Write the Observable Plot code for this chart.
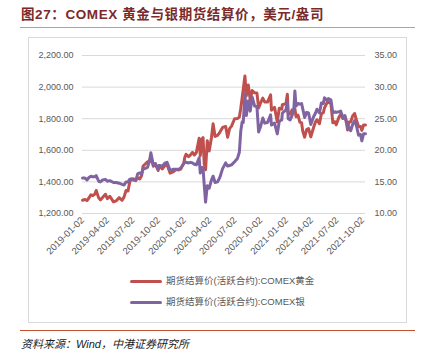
<!DOCTYPE html>
<html><head><meta charset="utf-8">
<script src="https://cdn.jsdelivr.net/npm/d3@7"></script>
<script src="https://cdn.jsdelivr.net/npm/@observablehq/plot@0.6"></script>
<style>
html,body{margin:0;padding:0;background:#fff;}
#wrap{position:relative;width:422px;height:356px;overflow:hidden;font-family:"Liberation Sans","Noto Sans CJK SC",sans-serif;}
#title{position:absolute;left:21px;top:8px;line-height:14px;font-size:13.5px;font-weight:bold;color:#7b2a2a;letter-spacing:0.6px;white-space:nowrap;}
#tline{position:absolute;left:20px;top:27px;width:395px;height:1px;background:#dc9378;}
#box{position:absolute;left:28px;top:37px;width:377px;height:284px;border:1px solid #d9d9d9;}
#chart{position:absolute;left:28px;top:37px;}
.item{position:absolute;left:130px;height:12px;font-size:9.5px;color:#595959;white-space:nowrap;}
.sw{position:absolute;left:0;top:4.5px;width:32px;height:3px;border-radius:1.5px;}
.lab{position:absolute;left:36px;top:0;line-height:12px;}
#bline{position:absolute;left:20px;top:330px;width:395px;height:1px;background:#c5502d;}
#source{position:absolute;left:21px;top:338px;line-height:12px;font-size:11px;font-style:italic;color:#222;white-space:nowrap;}
</style></head>
<body>
<div id="wrap">
  <div id="title">图27：COMEX 黄金与银期货结算价，美元/盎司</div>
  <div id="tline"></div>
  <div id="box"></div>
  <div id="chart"></div>
  <div id="legend"></div>
  <div id="bline"></div>
  <div id="source">资料来源：Wind，中港证券研究所</div>
</div>
<script>
const dates2019 = ["2019-01-02","2019-01-11","2019-01-18","2019-01-25","2019-02-01","2019-02-08","2019-02-15","2019-02-20","2019-03-01","2019-03-07","2019-03-15","2019-03-25","2019-04-01","2019-04-10","2019-04-23","2019-05-03","2019-05-13","2019-05-24","2019-05-31","2019-06-07","2019-06-14","2019-06-20","2019-06-25","2019-07-03","2019-07-12","2019-07-19","2019-07-26","2019-08-02","2019-08-07","2019-08-13","2019-08-23","2019-08-30","2019-09-04","2019-09-13","2019-09-20","2019-09-30","2019-10-04","2019-10-15","2019-10-25","2019-11-01","2019-11-12","2019-11-22","2019-12-03","2019-12-13","2019-12-20","2019-12-31"];
const gold2019 = [1284,1289,1282,1298,1318,1314,1322,1346,1299,1286,1302,1322,1294,1309,1274,1280,1300,1284,1305,1346,1342,1397,1418,1420,1412,1426,1419,1440,1500,1510,1527,1529,1560,1499,1515,1472,1504,1482,1505,1508,1455,1463,1478,1476,1481,1520];
const silver2019 = [15.6,15.6,15.3,15.7,15.9,15.8,15.8,16.0,15.1,15.0,15.3,15.4,15.1,15.2,14.9,14.9,14.8,14.6,14.5,15.0,15.0,15.4,15.4,15.3,15.2,16.3,16.4,16.3,17.1,17.1,17.3,18.3,19.6,17.6,17.9,17.0,17.6,17.5,18.0,18.1,16.8,17.0,17.0,17.0,17.2,17.9];

const dates2020 = ["2020-01-03","2020-01-08","2020-01-17","2020-01-24","2020-01-31","2020-02-07","2020-02-14","2020-02-24","2020-02-28","2020-03-06","2020-03-09","2020-03-13","2020-03-18","2020-03-24","2020-03-31","2020-04-08","2020-04-14","2020-04-21","2020-04-30","2020-05-08","2020-05-18","2020-05-29","2020-06-05","2020-06-12","2020-06-19","2020-06-30","2020-07-10","2020-07-17","2020-07-22","2020-07-27","2020-07-31","2020-08-06","2020-08-11","2020-08-18","2020-08-25","2020-09-01","2020-09-10","2020-09-18","2020-09-24","2020-09-30","2020-10-09","2020-10-16","2020-10-26","2020-11-06","2020-11-09","2020-11-20","2020-11-30","2020-12-07","2020-12-16","2020-12-18","2020-12-31"];
const gold2020 = [1552,1575,1560,1571,1587,1570,1586,1676,1566,1673,1680,1516,1477,1660,1596,1680,1768,1688,1694,1714,1745,1751,1683,1737,1753,1800,1801,1810,1865,1931,1986,2070,1946,2013,1918,1978,1964,1962,1868,1895,1930,1906,1905,1951,1854,1872,1780,1866,1860,1888,1895];
const silver2020 = [18.1,18.1,18.0,18.1,18.0,17.8,17.7,18.8,16.4,17.3,17.1,14.6,11.8,14.4,14.0,15.3,15.9,14.9,15.0,15.7,17.1,18.0,17.5,17.6,17.7,18.2,18.7,19.7,23.0,24.5,24.4,28.9,25.5,27.8,26.2,28.4,27.0,26.9,22.9,23.6,25.1,24.3,24.4,25.6,24.0,24.3,22.6,24.6,24.8,25.9,26.4];

const dates2021 = ["2021-01-05","2021-01-08","2021-01-15","2021-01-22","2021-01-28","2021-02-01","2021-02-05","2021-02-12","2021-02-19","2021-02-25","2021-03-01","2021-03-08","2021-03-15","2021-03-22","2021-03-30","2021-04-09","2021-04-16","2021-04-21","2021-04-30","2021-05-07","2021-05-14","2021-05-18","2021-05-28","2021-06-01","2021-06-10","2021-06-17","2021-06-25","2021-06-29","2021-07-09","2021-07-15","2021-07-23","2021-07-30","2021-08-06","2021-08-09","2021-08-13","2021-08-20","2021-08-27","2021-09-03","2021-09-10","2021-09-17","2021-09-24","2021-09-29","2021-10-05","2021-10-12"];
const gold2021 = [1955,1835,1829,1856,1843,1863,1813,1823,1777,1775,1723,1683,1731,1738,1685,1744,1780,1793,1768,1831,1838,1868,1904,1905,1896,1774,1781,1761,1810,1829,1801,1817,1763,1729,1778,1781,1818,1833,1788,1751,1750,1726,1760,1760];
const silver2021 = [27.6,25.0,24.8,25.5,26.4,29.4,27.0,27.4,27.3,27.4,26.6,25.2,26.0,25.9,24.1,25.3,25.9,26.5,25.9,27.5,27.4,28.3,27.9,28.2,28.0,25.9,26.1,26.0,26.1,26.2,25.2,25.5,24.4,23.4,23.7,23.1,24.1,24.7,23.8,22.4,22.5,21.5,22.6,22.6];

const xTickLabels = ["2019-01-02","2019-04-02","2019-07-02","2019-10-02","2020-01-02","2020-04-02","2020-07-02","2020-10-02","2021-01-02","2021-04-02","2021-07-02","2021-10-02"];
const leftTicks = [1200,1400,1600,1800,2000,2200];
const rightTicks = [10,15,20,25,30,35];
const seriesNames = ["期货结算价(活跃合约):COMEX黄金","期货结算价(活跃合约):COMEX银"];
const seriesColors = ["#c0504d","#8064a2"];

const parse = d3.utcParse("%Y-%m-%d");
const dates = [...dates2019, ...dates2020, ...dates2021].map(parse);
const gold = [...gold2019, ...gold2020, ...gold2021];
const silver = [...silver2019, ...silver2020, ...silver2021];
const goldData = dates.map((d, i) => ({date: d, v: gold[i]}));
const silverData = dates.map((d, i) => ({date: d, v: silver[i]}));
// silver (right axis 10–35) mapped onto left axis (1200–2200)
const toLeft = s => 1200 + (s - 10) * 40;
const font = '"Liberation Sans","Noto Sans CJK SC",sans-serif';

const chart = Plot.plot({
  width: 378, height: 232,
  marginLeft: 54, marginRight: 41, marginTop: 18, marginBottom: 56,
  style: {fontFamily: font, fontSize: "9px", color: "#595959", background: "transparent", overflow: "visible"},
  x: {type: "utc", domain: [dates[0], dates[dates.length - 1]]},
  y: {domain: [1200, 2200]},
  marks: [
    Plot.gridY(leftTicks, {stroke: "#d9d9d9", strokeOpacity: 1, strokeWidth: 1}),
    Plot.axisY(leftTicks, {anchor: "left", tickSize: 0, tickPadding: 9, tickFormat: d3.format(",.2f"), label: null, fill: "#595959"}),
    Plot.axisY(rightTicks.map(toLeft), {anchor: "right", tickSize: 0, tickPadding: 9, tickFormat: (d, i) => rightTicks[i].toFixed(2), label: null, fill: "#595959"}),
    Plot.axisX(xTickLabels.map(parse), {tickSize: 0, tickPadding: 5, tickRotate: -45, tickFormat: d3.utcFormat("%Y-%m-%d"), label: null, fontSize: 9.5, fill: "#595959"}),
    Plot.lineY(goldData, {x: "date", y: "v", stroke: seriesColors[0], strokeWidth: 3, strokeLinejoin: "round"}),
    Plot.lineY(silverData, {x: "date", y: d => toLeft(d.v), stroke: seriesColors[1], strokeWidth: 3, strokeLinejoin: "round"})
  ]
});
document.getElementById("chart").appendChild(chart);

const legend = document.getElementById("legend");
const legendTops = [275, 296];
seriesNames.forEach((name, i) => {
  const item = document.createElement("div");
  item.className = "item";
  item.style.top = legendTops[i] + "px";
  item.innerHTML = `<div class="sw" style="background:${seriesColors[i]}"></div><div class="lab">${name}</div>`;
  legend.appendChild(item);
});
</script>
</body></html>
